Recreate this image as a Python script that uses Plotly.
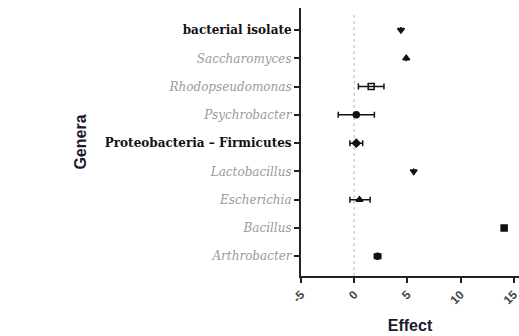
import plotly.graph_objects as go

# Genera listed from top to bottom
genera = ["bacterial isolate", "Saccharomyces", "Rhodopseudomonas", "Psychrobacter",
          "Proteobacteria \u2013 Firmicutes", "Lactobacillus", "Escherichia", "Bacillus",
          "Arthrobacter"]
group_rows = {"bacterial isolate", "Proteobacteria \u2013 Firmicutes"}
effect = [4.4, 4.9, 1.6, 0.2, 0.2, 5.6, 0.5, 14.1, 2.2]
ci_low = [4.4, 4.9, 0.4, -1.5, -0.4, 5.6, -0.4, 14.0, 1.9]
ci_high = [4.4, 4.9, 2.8, 1.9, 0.8, 5.6, 1.5, 14.2, 2.5]
symbols = ["triangle-down", "triangle-up", "square-open", "circle", "diamond",
           "triangle-down", "triangle-up", "square", "circle"]
x_ticks = [-5, 0, 5, 10, 15]

def label(name):
    if name in group_rows:
        return f"<b>{name}</b>"
    return f"<i><span style='color:#9a9a9a'>{name}</span></i>"

fig = go.Figure()
fig.add_trace(go.Scatter(
    x=effect,
    y=genera,
    mode="markers",
    marker=dict(symbol=symbols, size=6, color="#111111",
                line=dict(color="#111111", width=1.5)),
    error_x=dict(type="data", symmetric=False,
                 array=[h - e for h, e in zip(ci_high, effect)],
                 arrayminus=[e - l for e, l in zip(effect, ci_low)],
                 color="#111111", thickness=1.5, width=3),
    showlegend=False,
))

fig.add_shape(type="line", xref="x", yref="paper", x0=0, x1=0, y0=0, y1=0.985,
              line=dict(color="#c4c4c4", width=1.2, dash="dot"), layer="below")

fig.update_layout(
    width=519, height=336,
    margin=dict(l=301, r=0, t=8, b=60, autoexpand=False),
    plot_bgcolor="white", paper_bgcolor="white",
    xaxis=dict(
        range=[-5, 15.5], tickvals=x_ticks, ticktext=[f"<b>{v}</b>" for v in x_ticks],
        tickangle=-45, showgrid=False, zeroline=False,
        showline=True, linecolor="#222222", linewidth=2,
        ticks="outside", ticklen=5, tickwidth=1.5, tickcolor="#222222",
        ticklabeloverflow="allow",
        tickfont=dict(family="Arial, Liberation Sans", size=12, color="#444444"),
        title=dict(text="<b>Effect</b>", standoff=14,
                   font=dict(family="Arial, Liberation Sans", size=16, color="#1a1a2e")),
    ),
    yaxis=dict(
        type="category", categoryorder="array", categoryarray=genera[::-1],
        range=[-0.7, 8.78],
        tickvals=genera, ticktext=[label(g) for g in genera],
        showgrid=False, zeroline=False,
        showline=True, linecolor="#222222", linewidth=2,
        ticks="outside", ticklen=5, tickwidth=1.5, tickcolor="#222222",
        tickfont=dict(family="DejaVu Serif", size=12, color="#111111"),
        title=dict(text="<b>Genera</b>", standoff=14,
                   font=dict(family="Arial, Liberation Sans", size=16, color="#1a1a2e")),
    ),
)

fig.write_html("out.html")
